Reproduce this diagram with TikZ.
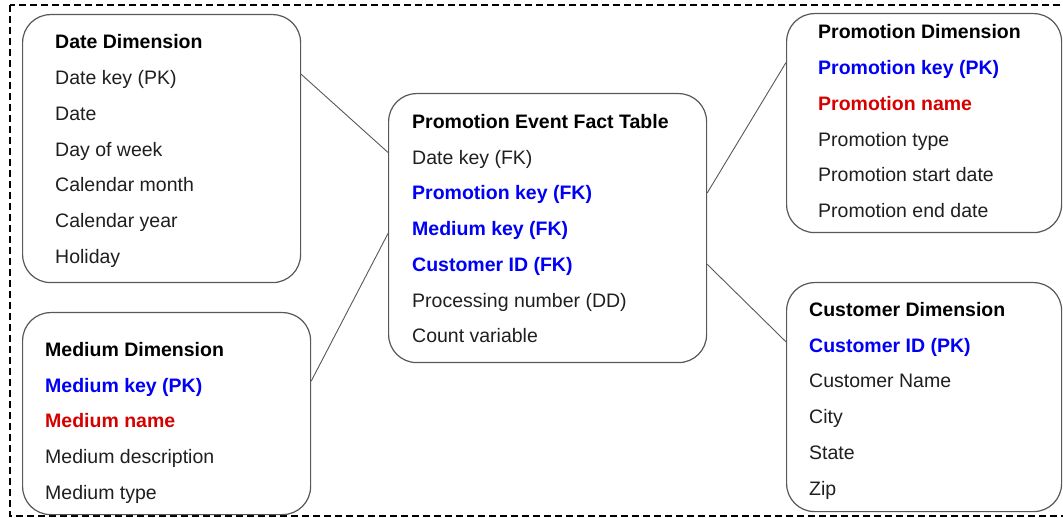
\documentclass[tikz,border=0pt]{standalone}
\usepackage{fontspec}
\setmainfont{Liberation Sans}
\usetikzlibrary{calc}

\definecolor{keyblue}{RGB}{0,0,245}
\definecolor{namered}{RGB}{215,0,0}
\definecolor{edgegray}{RGB}{88,88,88}

\tikzset{
  x=1pt, y=-1pt,
  tablebox/.style={draw=edgegray, line width=1.2pt, rounded corners=28pt,
                   fill=white, anchor=north west, inner sep=0pt},
  link/.style={draw=edgegray, line width=0.9pt},
  row/.style={anchor=base west, inner sep=0pt,
              font=\fontsize{19.5}{23}\selectfont, text=black!88},
  title/.style={row, font=\fontsize{19.5}{23}\selectfont\bfseries, text=black},
  pk/.style={row, font=\fontsize{19.5}{23}\selectfont\bfseries, text=keyblue},
  nm/.style={row, font=\fontsize{19.5}{23}\selectfont\bfseries, text=namered},
  plain/.style={row},
  fieldstyle/.code={\pgfkeysalso{#1}},
}

% #1 name prefix, #2 left x, #3 first baseline y, #4 list of style/text pairs
\newcommand\fieldlist[4]{%
  \foreach \sty/\txt [count=\i] in {#4}{
    \node[fieldstyle/.expand once=\sty] (#1-\i) at (#2,{#3+35.75*(\i-1)}) {\txt};
  }}

\begin{document}
\begin{tikzpicture}
  \useasboundingbox (0,0) rectangle (1063,518);
  \fill[white] (0,0) rectangle (1063,518);

  % dashed frame around the whole schema
  \draw[black, line width=1.3pt, dash pattern=on 7pt off 4pt] (10,5) rectangle (1080,516);

  % table outlines
  \node[tablebox, minimum width=278pt, minimum height=268pt] (date)  at (22,14)  {};
  \node[tablebox, minimum width=288pt, minimum height=202pt] (medium) at (22,312) {};
  \node[tablebox, minimum width=318pt, minimum height=269pt] (fact)  at (388,93) {};
  \node[tablebox, minimum width=275pt, minimum height=219pt] (promo) at (786,13) {};
  \node[tablebox, minimum width=275pt, minimum height=229pt] (cust)  at (786,282) {};

  % relationships between fact table and dimensions
  \draw[link] ($(date.north east)!0.224!(date.south east)$) -- ($(fact.north west)!0.22!(fact.south west)$);
  \draw[link] ($(medium.north east)!0.34!(medium.south east)$) -- ($(fact.north west)!0.52!(fact.south west)$);
  \draw[link] ($(fact.north east)!0.37!(fact.south east)$) -- ($(promo.north west)!0.225!(promo.south west)$);
  \draw[link] ($(fact.north east)!0.634!(fact.south east)$) -- ($(cust.north west)!0.26!(cust.south west)$);

  % table contents
  \fieldlist{d}{55}{49}{title/Date Dimension, plain/Date key (PK), plain/Date,
    plain/Day of week, plain/Calendar month, plain/Calendar year, plain/Holiday}
  \fieldlist{m}{45}{356.5}{title/Medium Dimension, pk/Medium key (PK), nm/Medium name,
    plain/Medium description, plain/Medium type}
  \fieldlist{f}{412}{128.5}{title/Promotion Event Fact Table, plain/Date key (FK),
    pk/Promotion key (FK), pk/Medium key (FK), pk/Customer ID (FK),
    plain/Processing number (DD), plain/Count variable}
  \fieldlist{p}{818}{39}{title/Promotion Dimension, pk/Promotion key (PK), nm/Promotion name,
    plain/Promotion type, plain/Promotion start date, plain/Promotion end date}
  \fieldlist{c}{809}{316.5}{title/Customer Dimension, pk/Customer ID (PK), plain/Customer Name,
    plain/City, plain/State, plain/Zip}
\end{tikzpicture}
\end{document}
